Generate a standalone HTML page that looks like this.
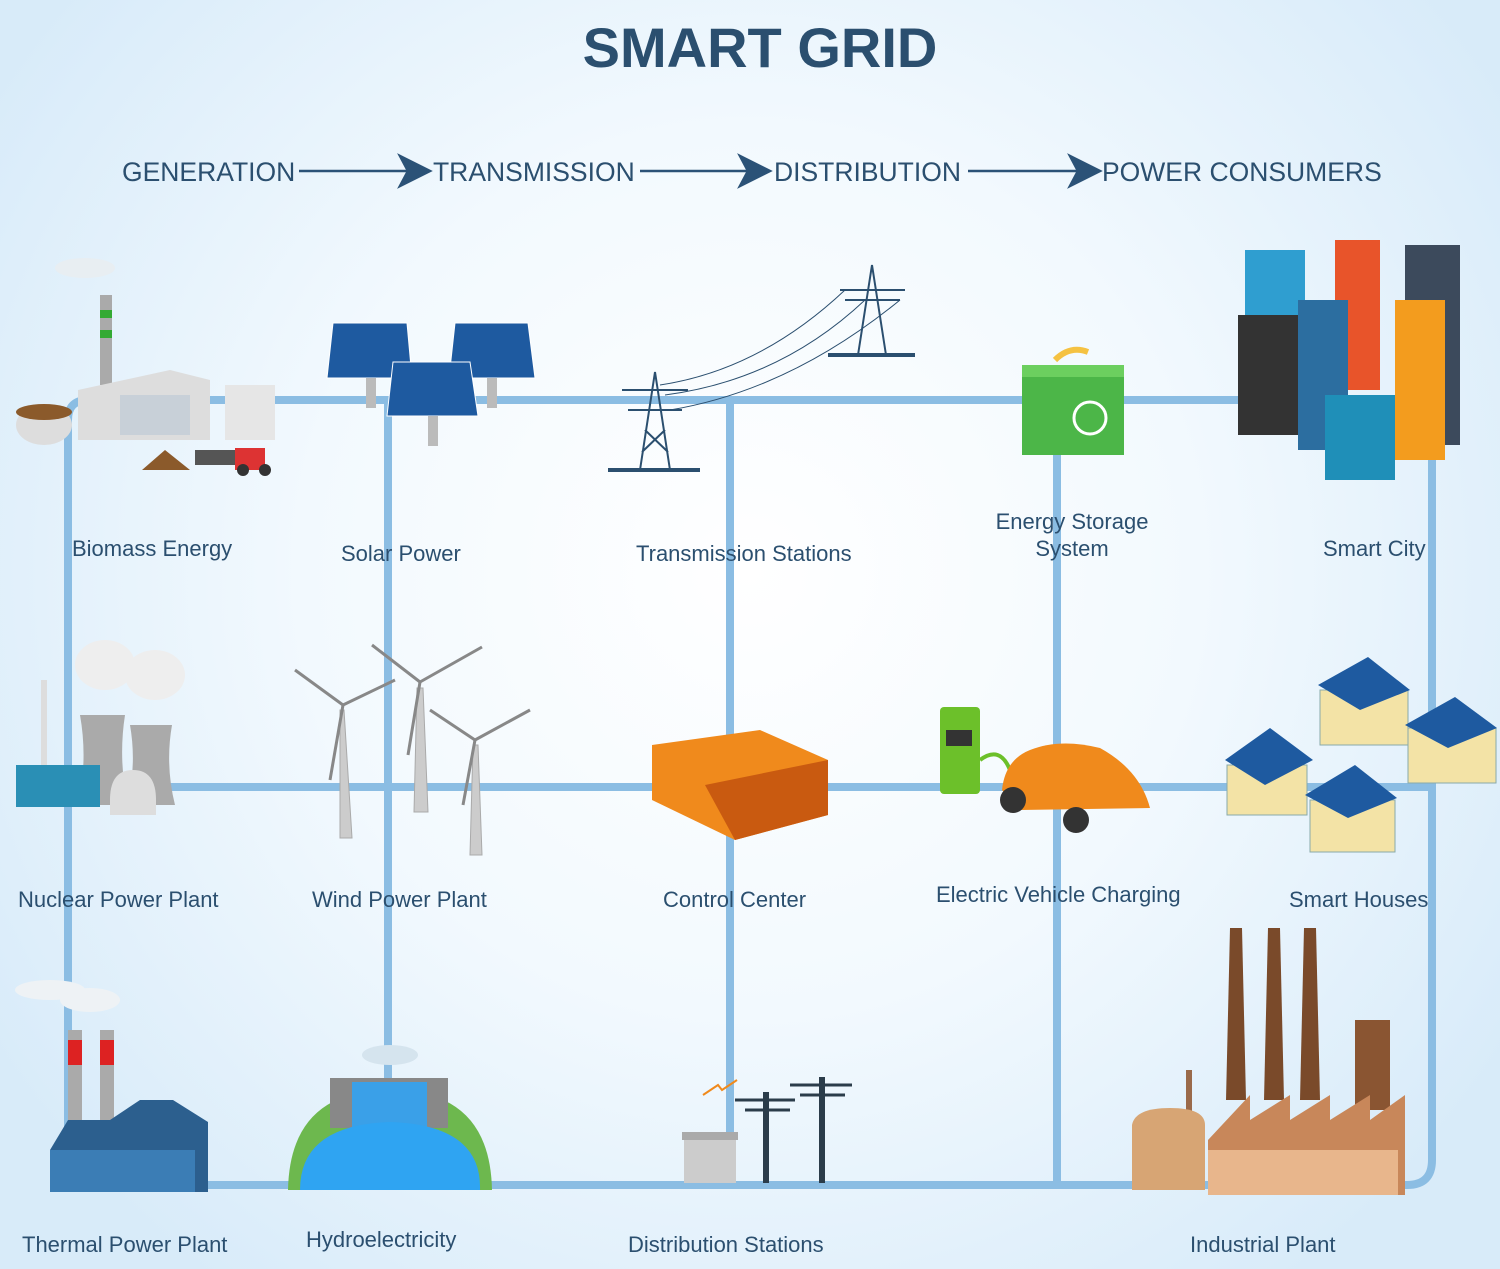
<!DOCTYPE html>
<html><head><meta charset="utf-8"><style>
html,body{margin:0;padding:0;}
body{width:1500px;height:1269px;overflow:hidden;background:radial-gradient(ellipse 60% 70% at 50% 45%,#ffffff 0%,#f2f9fe 50%,#d8ebf9 100%);}
svg{display:block}
text{font-family:"Liberation Sans",sans-serif;fill:#2b4f6f}
.l{font-size:22px}
</style></head><body>
<svg width="1500" height="1269" viewBox="0 0 1500 1269">
<text x="760" y="67" font-size="56" font-weight="bold" text-anchor="middle" fill="#2b5277">SMART GRID</text>
<g font-size="26.5" fill="#2b5277">
<text x="122" y="181">GENERATION</text>
<text x="433" y="181">TRANSMISSION</text>
<text x="774" y="181">DISTRIBUTION</text>
<text x="1102" y="181">POWER CONSUMERS</text>
</g>
<g stroke="#2b5277" stroke-width="2.5" fill="#2b5277">
<line x1="299" y1="171" x2="410" y2="171"/><path d="M400 156 L430 171 L400 186 L408 171Z"/>
<line x1="640" y1="171" x2="750" y2="171"/><path d="M740 156 L770 171 L740 186 L748 171Z"/>
<line x1="968" y1="171" x2="1080" y2="171"/><path d="M1070 156 L1100 171 L1070 186 L1078 171Z"/>
</g>
<g stroke="#8bbde3" stroke-width="8" fill="none">
<path d="M68 1185 V420 Q68 400 88 400 H1432 V1160 Q1432 1185 1407 1185 H68"/>
<line x1="68" y1="787" x2="1432" y2="787"/>
<line x1="388" y1="400" x2="388" y2="1185"/>
<line x1="730" y1="400" x2="730" y2="1185"/>
<line x1="1057" y1="400" x2="1057" y2="1185"/>
</g>
<g>
<ellipse cx="85" cy="268" rx="30" ry="10" fill="#e8eef2"/>
<rect x="100" y="295" width="12" height="90" fill="#aaa"/><rect x="100" y="310" width="12" height="8" fill="#3a3"/><rect x="100" y="330" width="12" height="8" fill="#3a3"/>
<ellipse cx="44" cy="425" rx="28" ry="20" fill="#ddd"/><ellipse cx="44" cy="412" rx="28" ry="8" fill="#8b5a2b"/>
<path d="M78 390 L170 370 L210 380 V440 H78Z" fill="#ddd"/><rect x="120" y="395" width="70" height="40" fill="#c8d0d8"/>
<rect x="225" y="385" width="50" height="55" fill="#e6e6e6"/>
<path d="M142 470 L165 450 L190 470Z" fill="#8b5a2b"/>
<rect x="195" y="450" width="40" height="15" fill="#555"/><rect x="235" y="448" width="30" height="22" fill="#d33"/><circle cx="243" cy="470" r="6" fill="#333"/><circle cx="265" cy="470" r="6" fill="#333"/>
</g>
<text class="l" x="72" y="556">Biomass Energy</text>
<g fill="#1e5aa0" stroke="#fff" stroke-width="1">
<path d="M333 323 H407 L412 378 H327Z"/>
<path d="M455 323 H528 L535 378 H449Z"/>
<path d="M393 362 H470 L478 416 H387Z"/>
</g>
<rect x="366" y="378" width="10" height="30" fill="#bbb"/><rect x="487" y="378" width="10" height="30" fill="#bbb"/><rect x="428" y="416" width="10" height="30" fill="#bbb"/>
<text class="l" x="341" y="561">Solar Power</text>
<g stroke="#2b4f6f" stroke-width="2" fill="none">
<path d="M640 470 L655 372 L670 470 M622 390 H688 M628 410 H682 M645 430 L668 452 M665 430 L642 452"/>
<line x1="608" y1="470" x2="700" y2="470" stroke-width="4"/>
<path d="M858 355 L872 265 L886 355 M840 290 H905 M845 300 H900"/>
<line x1="828" y1="355" x2="915" y2="355" stroke-width="4"/>
<path d="M660 385 Q760 370 845 290 M665 395 Q780 380 865 300 M670 410 Q790 390 900 300" stroke-width="1"/>
</g>
<text class="l" x="636" y="561">Transmission Stations</text>
<path d="M1055 360 Q1070 345 1088 352" stroke="#f5c242" stroke-width="6" fill="none"/>
<rect x="1022" y="365" width="102" height="90" fill="#4cb648"/><rect x="1022" y="365" width="102" height="12" fill="#6ccf5f"/>
<circle cx="1090" cy="418" r="16" fill="none" stroke="#fff" stroke-width="3"/>
<text class="l" x="1072" y="529" text-anchor="middle">Energy Storage</text>
<text class="l" x="1072" y="556" text-anchor="middle">System</text>
<rect x="1245" y="250" width="60" height="180" fill="#2f9ed0"/>
<rect x="1238" y="315" width="60" height="120" fill="#333"/>
<rect x="1335" y="240" width="45" height="150" fill="#e8542a"/>
<rect x="1298" y="300" width="50" height="150" fill="#2c6ea0"/>
<rect x="1405" y="245" width="55" height="200" fill="#3c4a5c"/>
<rect x="1395" y="300" width="50" height="160" fill="#f39c1e"/>
<rect x="1325" y="395" width="70" height="85" fill="#1f8fb8"/>
<text class="l" x="1323" y="556">Smart City</text>
<ellipse cx="105" cy="665" rx="30" ry="25" fill="#eee"/><ellipse cx="155" cy="675" rx="30" ry="25" fill="#eee"/>
<path d="M80 715 H125 Q118 760 128 805 H78 Q88 760 80 715Z" fill="#aaa"/>
<path d="M130 725 H172 Q165 765 175 805 H127 Q137 765 130 725Z" fill="#aaa"/>
<rect x="41" y="680" width="6" height="85" fill="#ddd"/>
<rect x="16" y="765" width="84" height="42" fill="#2a8fb5"/>
<path d="M110 800 Q110 770 133 770 Q156 770 156 800 V815 H110Z" fill="#ddd"/>
<text class="l" x="18" y="907">Nuclear Power Plant</text>
<g fill="#ccc" stroke="#aaa">
<path d="M340 710 L344 710 L352 838 L340 838Z"/>
<path d="M417 688 L423 688 L428 812 L414 812Z"/>
<path d="M473 745 L478 745 L482 855 L470 855Z"/>
</g>
<g stroke="#888" stroke-width="3">
<line x1="343" y1="705" x2="295" y2="670"/><line x1="343" y1="705" x2="395" y2="680"/><line x1="343" y1="705" x2="330" y2="780"/>
<line x1="420" y1="682" x2="372" y2="645"/><line x1="420" y1="682" x2="482" y2="647"/><line x1="420" y1="682" x2="408" y2="755"/>
<line x1="475" y1="740" x2="430" y2="710"/><line x1="475" y1="740" x2="530" y2="710"/><line x1="475" y1="740" x2="463" y2="805"/>
</g>
<text class="l" x="312" y="907">Wind Power Plant</text>
<path d="M652 745 L760 730 L828 760 V815 L735 840 L652 800Z" fill="#f08a1c"/>
<path d="M705 785 L828 760 V815 L735 840Z" fill="#c95a10"/>
<text class="l" x="663" y="907">Control Center</text>
<rect x="940" y="707" width="40" height="87" rx="4" fill="#6cc02a"/><rect x="946" y="730" width="26" height="16" fill="#333"/>
<path d="M980 760 Q1000 745 1010 770" stroke="#6cc02a" stroke-width="4" fill="none"/>
<path d="M1002 790 Q1005 760 1030 750 Q1060 738 1100 748 Q1140 770 1150 808 L1020 810Z" fill="#f08a1c"/>
<circle cx="1013" cy="800" r="13" fill="#333"/><circle cx="1076" cy="820" r="13" fill="#333"/>
<text class="l" x="936" y="902">Electric Vehicle Charging</text>
<g fill="#f3e3a6" stroke="#8aa" stroke-width="1">
<rect x="1320" y="690" width="88" height="55"/><rect x="1227" y="765" width="80" height="50"/><rect x="1408" y="728" width="88" height="55"/><rect x="1310" y="800" width="85" height="52"/>
</g>
<g fill="#1e5aa0">
<path d="M1318 685 L1368 657 L1410 690 L1360 710Z"/><path d="M1225 760 L1270 728 L1313 760 L1265 785Z"/><path d="M1405 725 L1455 697 L1497 728 L1448 748Z"/><path d="M1305 795 L1355 765 L1397 798 L1348 818Z"/>
</g>
<text class="l" x="1289" y="907">Smart Houses</text>
<ellipse cx="50" cy="990" rx="35" ry="10" fill="#eef2f5"/><ellipse cx="90" cy="1000" rx="30" ry="12" fill="#eef2f5"/>
<rect x="68" y="1030" width="14" height="90" fill="#aaa"/><rect x="100" y="1030" width="14" height="90" fill="#aaa"/>
<rect x="68" y="1040" width="14" height="25" fill="#d22"/><rect x="100" y="1040" width="14" height="25" fill="#d22"/>
<path d="M50 1150 L68 1120 L110 1120 L140 1100 L173 1100 L208 1122 V1192 H50Z" fill="#2c5f8e"/>
<rect x="50" y="1150" width="145" height="42" fill="#3b7db5"/>
<text class="l" x="22" y="1252">Thermal Power Plant</text>
<ellipse cx="390" cy="1055" rx="28" ry="10" fill="#d5e4ee"/>
<path d="M288 1190 Q290 1090 390 1090 Q490 1090 492 1190Z" fill="#6db84e"/>
<rect x="330" y="1078" width="118" height="50" fill="#888"/><rect x="352" y="1082" width="75" height="45" fill="#3aa0e8"/>
<path d="M300 1190 Q300 1125 390 1122 Q482 1125 480 1190Z" fill="#2fa4f2"/>
<text class="l" x="306" y="1247">Hydroelectricity</text>
<rect x="684" y="1135" width="52" height="48" fill="#ccc"/><rect x="682" y="1132" width="56" height="8" fill="#aaa"/>
<g stroke="#2b3c4a" stroke-width="6"><line x1="766" y1="1092" x2="766" y2="1183"/><line x1="822" y1="1077" x2="822" y2="1183"/></g>
<g stroke="#2b3c4a" stroke-width="3"><line x1="735" y1="1100" x2="795" y2="1100"/><line x1="745" y1="1110" x2="790" y2="1110"/><line x1="790" y1="1085" x2="852" y2="1085"/><line x1="800" y1="1095" x2="845" y2="1095"/></g>
<path d="M703 1095 L718 1085 L722 1090 L737 1080" stroke="#f08a1c" stroke-width="2" fill="none"/>
<text class="l" x="628" y="1252">Distribution Stations</text>
<g fill="#7a4a2a"><path d="M1230 928 H1242 L1246 1100 H1226Z"/><path d="M1268 928 H1280 L1284 1100 H1264Z"/><path d="M1304 928 H1316 L1320 1100 H1300Z"/></g>
<rect x="1355" y="1020" width="35" height="90" fill="#8a5532"/>
<rect x="1186" y="1070" width="6" height="45" fill="#9a6a4a"/>
<path d="M1132 1125 Q1135 1108 1170 1108 Q1205 1108 1205 1125 V1190 H1132Z" fill="#d7a574"/>
<path d="M1208 1140 L1250 1095 V1120 L1290 1095 V1120 L1330 1095 V1120 L1370 1095 V1120 L1405 1095 V1195 H1208Z" fill="#c8875a"/>
<rect x="1208" y="1150" width="190" height="45" fill="#e8b68c"/>
<text class="l" x="1190" y="1252">Industrial Plant</text>
</svg>
</body></html>
